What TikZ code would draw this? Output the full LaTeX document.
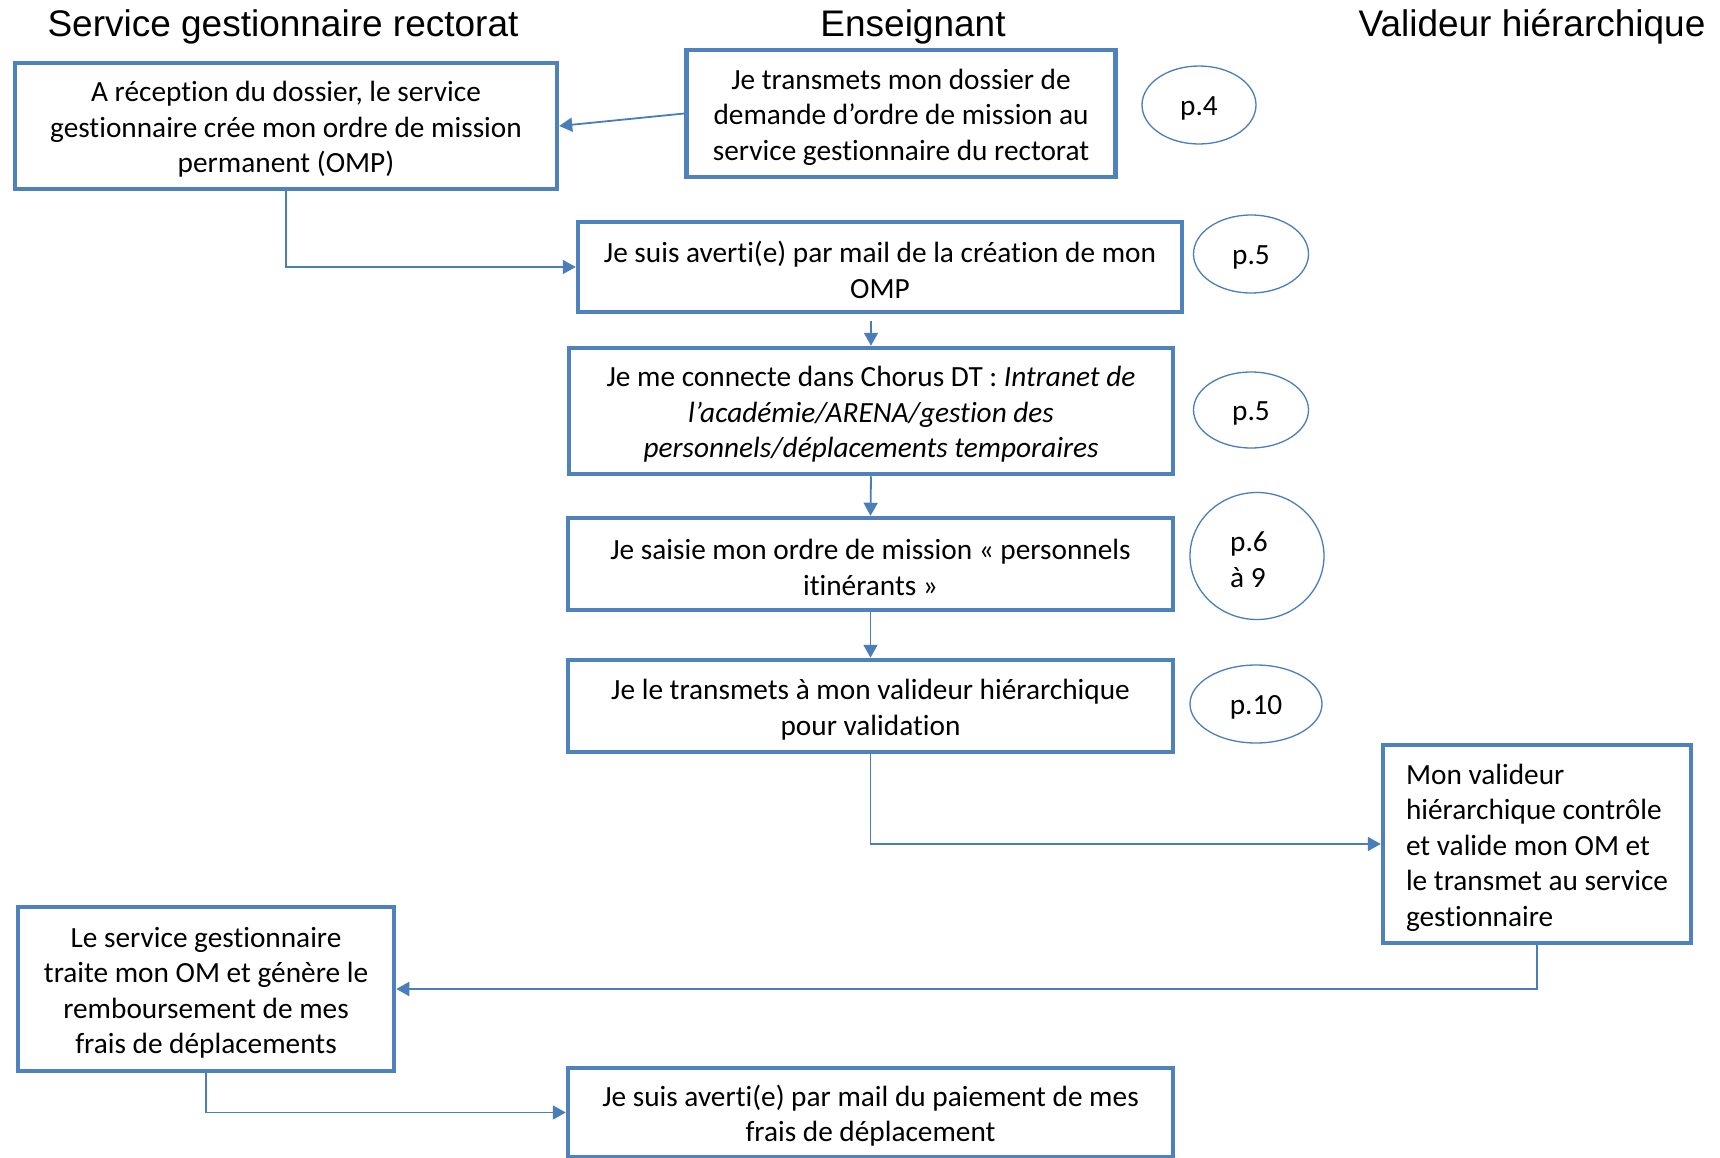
\documentclass[tikz,border=0pt]{standalone}
\usepackage{fontspec}
\usetikzlibrary{arrows.meta,shapes.geometric,calc}
\newfontfamily\boxfont[Ligatures={NoCommon}]{Carlito}
\newfontfamily\hdrfont{Liberation Sans}
\definecolor{boxblue}{HTML}{4F81BD}
\definecolor{linkblue}{HTML}{4A7EBB}
\newcommand{\tstrut}{\rule{0pt}{27.5pt}}
\newcommand{\pstrut}{\rule{0pt}{25pt}}
\tikzset{
  box/.style={draw=boxblue, line width=4.5pt, fill=white, inner sep=0pt,
    align=center, font=\boxfont\fontsize{29.3}{35.4}\selectfont},
  pageref/.style={draw=linkblue, line width=1.3pt, ellipse, inner sep=0pt,
    align=left, font=\boxfont\fontsize{29.3}{35.4}\selectfont},
  hdr/.style={anchor=base, inner sep=0pt, font=\hdrfont\fontsize{37}{44}\selectfont},
  link/.style={draw=linkblue, line width=1.8pt, -{Triangle[length=13pt,width=14pt]}}
}
\begin{document}
\begin{tikzpicture}[x=1pt,y=-1pt]
\useasboundingbox[fill=white] (0,0) rectangle (1720,1158);
% headers
\node[hdr] (h1) at (283,37) {Service gestionnaire rectorat};
\node[hdr] (h2) at (913,37) {Enseignant};
\node[hdr] (h3) at (1532,37) {Valideur hiérarchique};
% boxes
\node[box, minimum width=542, minimum height=126] (A) at (286,126)
  {\tstrut A réception du dossier, le service\\gestionnaire crée mon ordre de mission\\permanent (OMP)};
\node[box, minimum width=429, minimum height=127] (B) at (901,113.5)
  {\tstrut Je transmets mon dossier de\\demande d’ordre de mission au\\service gestionnaire du rectorat};
\node[box, minimum width=604, minimum height=90] (C) at (880,267)
  {\tstrut Je suis averti(e) par mail de la création de mon\\OMP};
\node[box, minimum width=604, minimum height=126] (D) at (871,411)
  {\tstrut Je me connecte dans Chorus DT : \textit{Intranet de}\\\textit{l’académie/ARENA/gestion des}\\\textit{personnels/déplacements temporaires}};
\node[box, minimum width=605, minimum height=92] (E) at (870.5,564)
  {\tstrut Je saisie mon ordre de mission « personnels\\itinérants »};
\node[box, minimum width=605, minimum height=92] (F) at (870.5,706)
  {\tstrut Je le transmets à mon valideur hiérarchique\\pour validation};
\node[box, align=left, minimum width=308, minimum height=198] (G) at (1537,844)
  {\tstrut Mon valideur\\hiérarchique contrôle\\et valide mon OM et\\le transmet au service\\gestionnaire};
\node[box, minimum width=376, minimum height=164] (H) at (206,989)
  {\tstrut Le service gestionnaire\\traite mon OM et génère le\\remboursement de mes\\frais de déplacements};
\node[box, minimum width=605, minimum height=89] (I) at (870.5,1112.5)
  {\tstrut Je suis averti(e) par mail du paiement de mes\\frais de déplacement};
% page references
\node[pageref, minimum width=114, minimum height=78] (p4) at (1199,105) {\pstrut p.4};
\node[pageref, minimum width=115, minimum height=78] (p5a) at (1251,254) {\pstrut p.5};
\node[pageref, minimum width=115, minimum height=76] (p5b) at (1251,410) {\pstrut p.5};
\node[pageref, minimum width=134, minimum height=127] (p6) at (1257,556) {\tstrut p.6\hspace*{16pt}\\à 9};
\node[pageref, minimum width=132, minimum height=78] (p10) at (1256,704) {\pstrut p.10};
% connectors
\draw[link] (B.west) -- (A.east);
\draw[link] (A.south) |- (C.west);
\draw[link] ($(D.north |- C.south)+(0,7)$) -- (D.north);
\draw[link] (D.south) -- (E.north);
\draw[link] (E.south) -- (F.north);
\draw[link] (F.south) |- (G.west);
\draw[link] (G.south) |- (H.east);
\draw[link] (H.south) |- (I.west);
\end{tikzpicture}
\end{document}
